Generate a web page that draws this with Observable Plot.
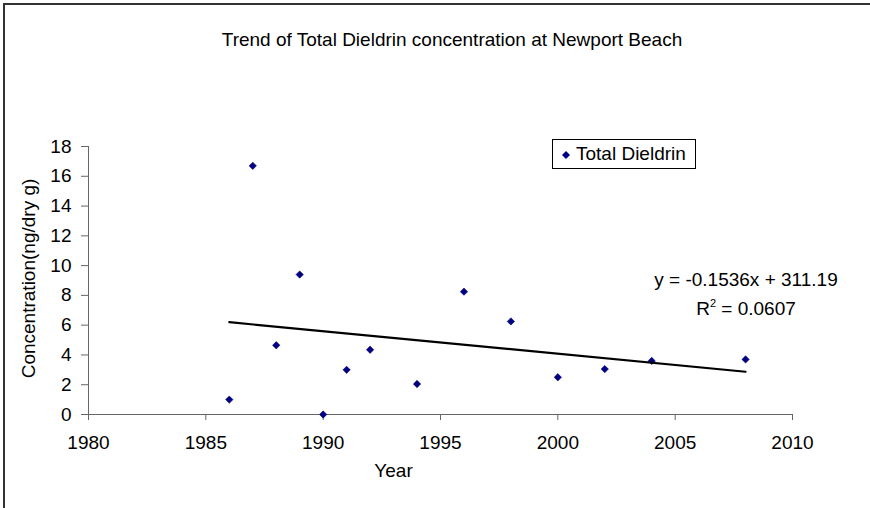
<!DOCTYPE html>
<html>
<head>
<meta charset="utf-8">
<script src="https://cdn.jsdelivr.net/npm/d3@7"></script>
<script src="https://cdn.jsdelivr.net/npm/@observablehq/plot@0.6"></script>
<style>
  html, body { margin: 0; padding: 0; background: #fff; overflow: hidden; width: 870px; height: 508px; }
  #root { width: 870px; height: 508px; position: relative; overflow: hidden; font-family: "Liberation Sans", Arial, sans-serif; color: #000; }
  #lineTop { position: absolute; left: 3px; top: 3px; width: 900px; height: 2px; background: #333; }
  #lineLeft { position: absolute; left: 3px; top: 3px; width: 2px; height: 520px; background: #333; }
  #title { position: absolute; left: 0; width: 904px; top: 30px; text-align: center; font-size: 19px; line-height: 19px; white-space: nowrap; }
  #chart { position: absolute; left: 0; top: 60px; width: 870px; height: 448px; }
  #legend { position: absolute; left: 552px; top: 139px; width: 144px; height: 30px; border: 1px solid #000; box-sizing: border-box; background: #fff; font-size: 19px; }
  #legend svg { position: absolute; left: 8px; top: 10px; }
  #legend span { position: absolute; left: 23px; top: 4px; line-height: 19px; white-space: nowrap; }
  .eq { position: absolute; font-size: 19px; line-height: 19px; white-space: nowrap; text-align: center; width: 240px; left: 626px; }
  .eq sup { font-size: 11px; vertical-align: 0; position: relative; top: -8px; }
</style>
</head>
<body>
<div id="root">
<div id="lineTop"></div>
<div id="lineLeft"></div>
<div id="title"></div>
<div id="chart"></div>
<div id="legend"><svg width="10" height="10"><path d="M5,1L9,5L5,9L1,5Z" fill="#000080"/></svg><span></span></div>
<div class="eq" id="eq1" style="top:270px"></div>
<div class="eq" id="eq2" style="top:299px"></div>
</div>
<script>
// ---- data ----
const titleText = "Trend of Total Dieldrin concentration at Newport Beach";
const seriesName = "Total Dieldrin";
const xLabel = "Year";
const yLabel = "Concentration(ng/dry g)";
const years = [1986, 1987, 1988, 1989, 1990, 1991, 1992, 1994, 1996, 1998, 2000, 2002, 2004, 2008];
const dieldrin = [1.0, 16.7, 4.65, 9.4, 0, 3.0, 4.35, 2.05, 8.25, 6.25, 2.5, 3.05, 3.6, 3.7];
const xTicks = [1980, 1985, 1990, 1995, 2000, 2005, 2010];
const yTicks = [0, 2, 4, 6, 8, 10, 12, 14, 16, 18];
const trendSlope = ["-0.1536"];
const trendIntercept = ["311.19"];
const trendR2 = ["0.0607"];

const data = years.map((year, i) => ({year, value: dieldrin[i]}));

document.getElementById("title").textContent = titleText;
document.querySelector("#legend span").textContent = seriesName;
document.getElementById("eq1").textContent = `y = ${trendSlope[0]}x + ${trendIntercept[0]}`;
document.getElementById("eq2").innerHTML = `R<sup>2</sup> = ${trendR2[0]}`;

const axisColor = "#666";
const chart = Plot.plot({
  width: 870,
  height: 448,
  marginLeft: 88,
  marginRight: 78,
  marginTop: 86,
  marginBottom: 94,
  style: {fontFamily: "Liberation Sans, Arial, sans-serif", fontSize: "19px", color: "#000", background: "transparent"},
  x: {domain: [1980, 2010]},
  y: {domain: [0, 18]},
  marks: [
    Plot.ruleX([1980], {stroke: axisColor, strokeWidth: 1}),
    Plot.ruleY([0], {stroke: axisColor, strokeWidth: 1}),
    Plot.axisX({ticks: xTicks, tickFormat: d => String(d), tickSize: 6, tickPadding: 15, stroke: axisColor, fill: "#000", fontSize: 19, label: null}),
    Plot.axisY({ticks: yTicks, tickFormat: d => String(d), tickSize: 7, tickPadding: 10, stroke: axisColor, fill: "#000", fontSize: 19, label: null}),
    Plot.text([yLabel], {text: d => d, frameAnchor: "left", textAnchor: "middle", rotate: -90, dx: -60, dy: -2, fontSize: 19, fill: "#000"}),
    Plot.text([xLabel], {text: d => d, frameAnchor: "bottom", dx: -47, dy: 62, fontSize: 19, fill: "#000"}),
    Plot.dot(data, {x: "year", y: "value", symbol: "diamond2", r: 3.3, fill: "#000080", stroke: "#000080", strokeWidth: 0.6}),
    Plot.linearRegressionY(data, {x: "year", y: "value", ci: 0, stroke: "#000", strokeWidth: 2.2})
  ]
});
document.getElementById("chart").appendChild(chart);
</script>
</body>
</html>
